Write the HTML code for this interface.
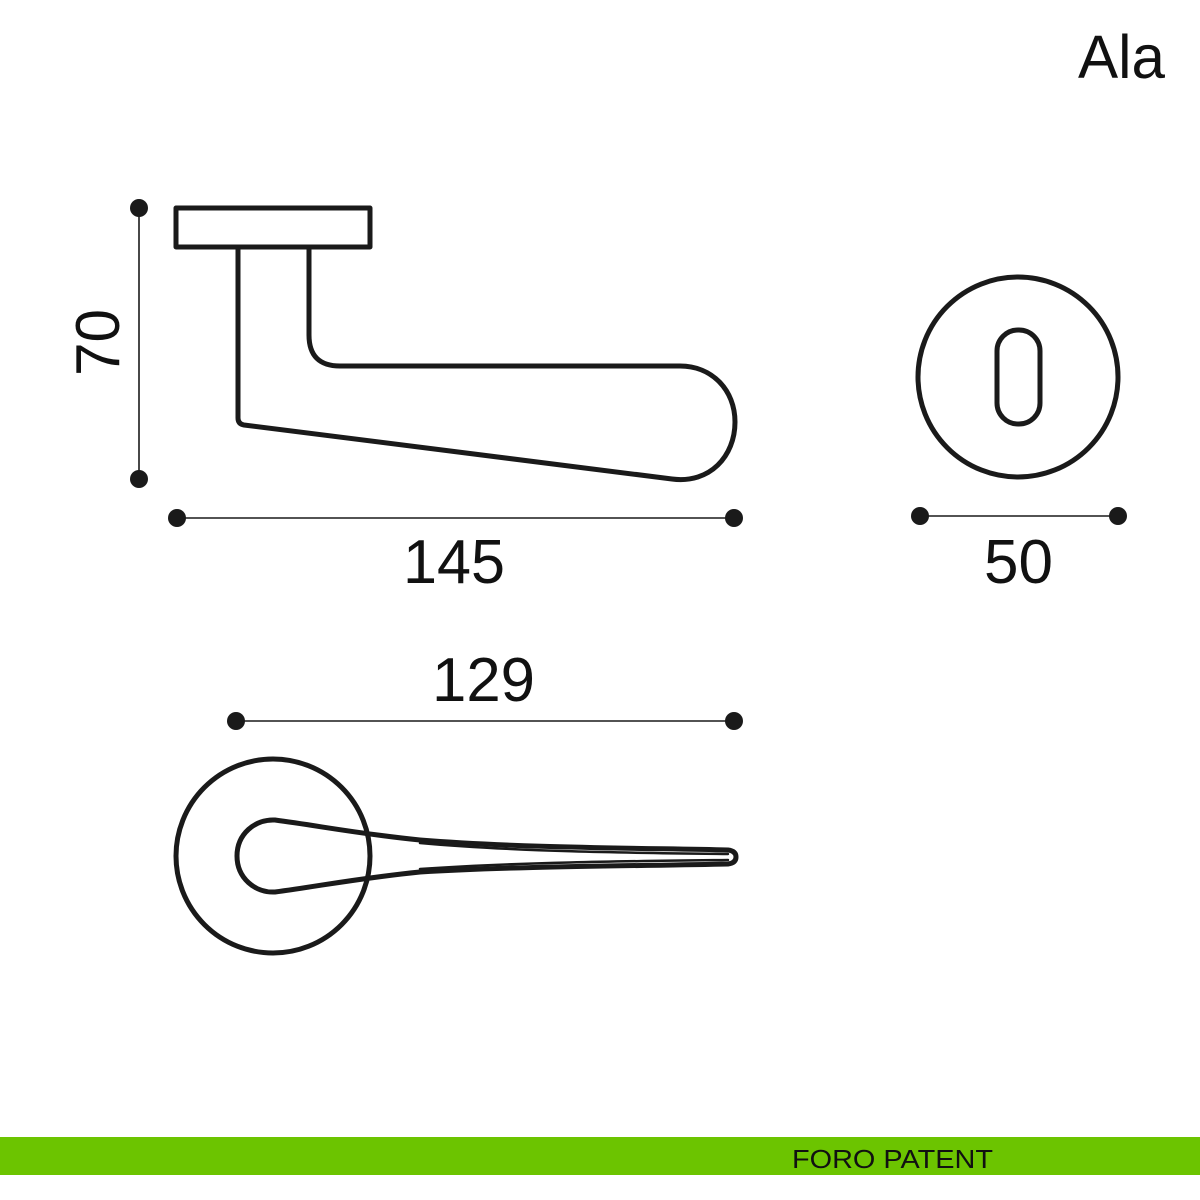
<!DOCTYPE html>
<html><head><meta charset="utf-8"><style>
html,body{margin:0;padding:0;background:#fff;width:1200px;height:1200px;overflow:hidden}
svg{display:block}
text{font-family:"Liberation Sans",sans-serif;fill:#111}
</style></head><body>
<svg width="1200" height="1200" viewBox="0 0 1200 1200" xmlns="http://www.w3.org/2000/svg">
<text x="1078" y="78" font-size="61" textLength="87" lengthAdjust="spacingAndGlyphs">Ala</text>

<g fill="none" stroke="#1a1a1a" stroke-width="5" stroke-linejoin="round" stroke-linecap="round">
  <rect x="176" y="208" width="194" height="39"/>
  <path d="M238 247 L238 418 Q238 424 244 425 L672 479 C710 484 735 456 735 422 C735 390 712 366 680 366 L340 366 Q309 366 309 335 L309 247"/>
  <circle cx="1018" cy="377" r="100"/>
  <rect x="997" y="330" width="43" height="94" rx="21"/>
  <circle cx="273" cy="856" r="97"/>
  <path d="M275 820 C320 826 360 834 420 840 C520 848 640 848 728 850 Q736 851 736 857 Q736 863 728 864 C640 866 520 866 420 872 C360 878 320 886 275 892 C255 893 237 878 237 856 C237 834 255 819 275 820 Z"/>
  <path d="M420 843 C520 852 640 853 728 854 M420 869 C520 862 640 861 728 860" stroke-width="2.5"/>
</g>

<g stroke="#1a1a1a" stroke-width="1.6">
  <line x1="139" y1="208" x2="139" y2="479"/>
  <line x1="177" y1="518" x2="734" y2="518"/>
  <line x1="920" y1="516" x2="1118" y2="516"/>
  <line x1="236" y1="721" x2="734" y2="721"/>
</g>
<g fill="#1a1a1a">
  <circle cx="139" cy="208" r="9"/><circle cx="139" cy="479" r="9"/>
  <circle cx="177" cy="518" r="9"/><circle cx="734" cy="518" r="9"/>
  <circle cx="920" cy="516" r="9"/><circle cx="1118" cy="516" r="9"/>
  <circle cx="236" cy="721" r="9"/><circle cx="734" cy="721" r="9"/>
</g>

<text x="403" y="583" font-size="62" textLength="102" lengthAdjust="spacingAndGlyphs">145</text>
<text x="984" y="583" font-size="62" textLength="69" lengthAdjust="spacingAndGlyphs">50</text>
<text x="432" y="701" font-size="62" textLength="103" lengthAdjust="spacingAndGlyphs">129</text>
<text transform="translate(119,376) rotate(-90)" font-size="62" textLength="67" lengthAdjust="spacingAndGlyphs">70</text>

<rect x="0" y="1137" width="1200" height="38" fill="#6cc400"/>
<text x="792" y="1168" font-size="26" textLength="201" lengthAdjust="spacingAndGlyphs">FORO PATENT</text>
</svg>
</body></html>
